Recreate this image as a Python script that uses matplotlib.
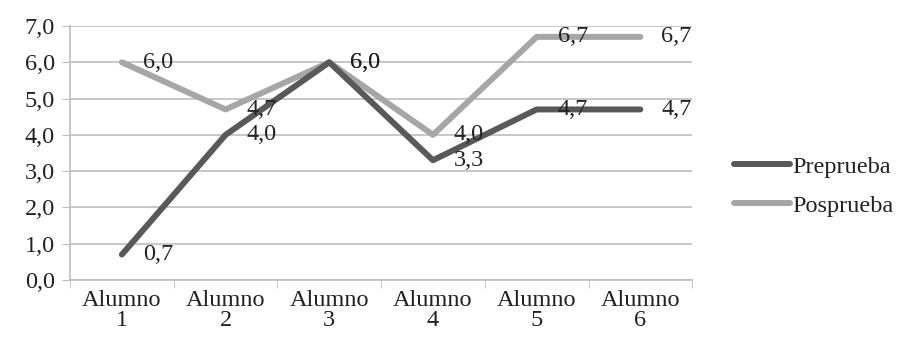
import matplotlib
matplotlib.use("Agg")
import matplotlib.pyplot as plt
import numpy as np

# Data
categories = ["Alumno\n1", "Alumno\n2", "Alumno\n3", "Alumno\n4", "Alumno\n5", "Alumno\n6"]
preprueba = [0.7, 4.0, 6.0, 3.3, 4.7, 4.7]
posprueba = [6.0, 4.7, 6.0, 4.0, 6.7, 6.7]
series_names = ["Preprueba", "Posprueba"]
y_ticks = [0, 1, 2, 3, 4, 5, 6, 7]

plt.rcParams["font.family"] = ["Liberation Serif", "DejaVu Serif"]
FS = 17.5
TEXT = "#222222"
DARK = "#595959"
LIGHT = "#a6a6a6"
GRID = "#bdbdbd"

fig = plt.figure(figsize=(9.07, 3.51), dpi=100)
ax = fig.add_axes([0.0772, 0.2023, 0.686, 0.7237])

x = np.arange(len(categories))
l1, = ax.plot(x, preprueba, color=DARK, lw=4.3, solid_joinstyle="round",
              solid_capstyle="round", label=series_names[0], zorder=3)
l2, = ax.plot(x, posprueba, color=LIGHT, lw=4.3, solid_joinstyle="round",
              solid_capstyle="round", label=series_names[1], zorder=2)

# value labels to the right of each point
for xi, v in zip(x, posprueba):
    ax.annotate(f"{v:.1f}".replace(".", ","), (xi, v), xytext=(15, 0),
                textcoords="offset points", ha="left", va="center",
                fontsize=FS, color=TEXT, zorder=4)
for xi, v in zip(x, preprueba):
    ax.annotate(f"{v:.1f}".replace(".", ","), (xi, v), xytext=(15, 0),
                textcoords="offset points", ha="left", va="center",
                fontsize=FS, color=TEXT, zorder=4)

ax.set_xlim(-0.5, len(categories) - 0.5)
ax.set_ylim(0, 7)
ax.set_yticks(y_ticks)
ax.set_yticklabels([f"{t:.1f}".replace(".", ",") for t in y_ticks],
                   fontsize=FS, color=TEXT)
ax.set_xticks(x)
ax.set_xticklabels(categories, fontsize=FS, color=TEXT, linespacing=0.95)
ax.set_xticks(np.arange(-0.5, len(categories)), minor=True)

ax.tick_params(axis="x", which="major", length=0, pad=7)
ax.tick_params(axis="x", which="minor", length=6, color=GRID, direction="out")
ax.tick_params(axis="y", length=6, color=GRID, pad=5, direction="out")

ax.grid(axis="y", color=GRID, lw=1.2)
ax.set_axisbelow(True)
for side in ["top", "right"]:
    ax.spines[side].set_visible(False)
for side in ["left", "bottom"]:
    ax.spines[side].set_color(GRID)
    ax.spines[side].set_linewidth(1.2)

fig.legend(handles=[l1, l2], loc="center left", bbox_to_anchor=(0.785, 0.47),
           frameon=False, fontsize=FS, handlelength=2.3, handletextpad=0.1,
           labelspacing=0.7, labelcolor=TEXT)

fig.savefig("out.png", dpi=100)
